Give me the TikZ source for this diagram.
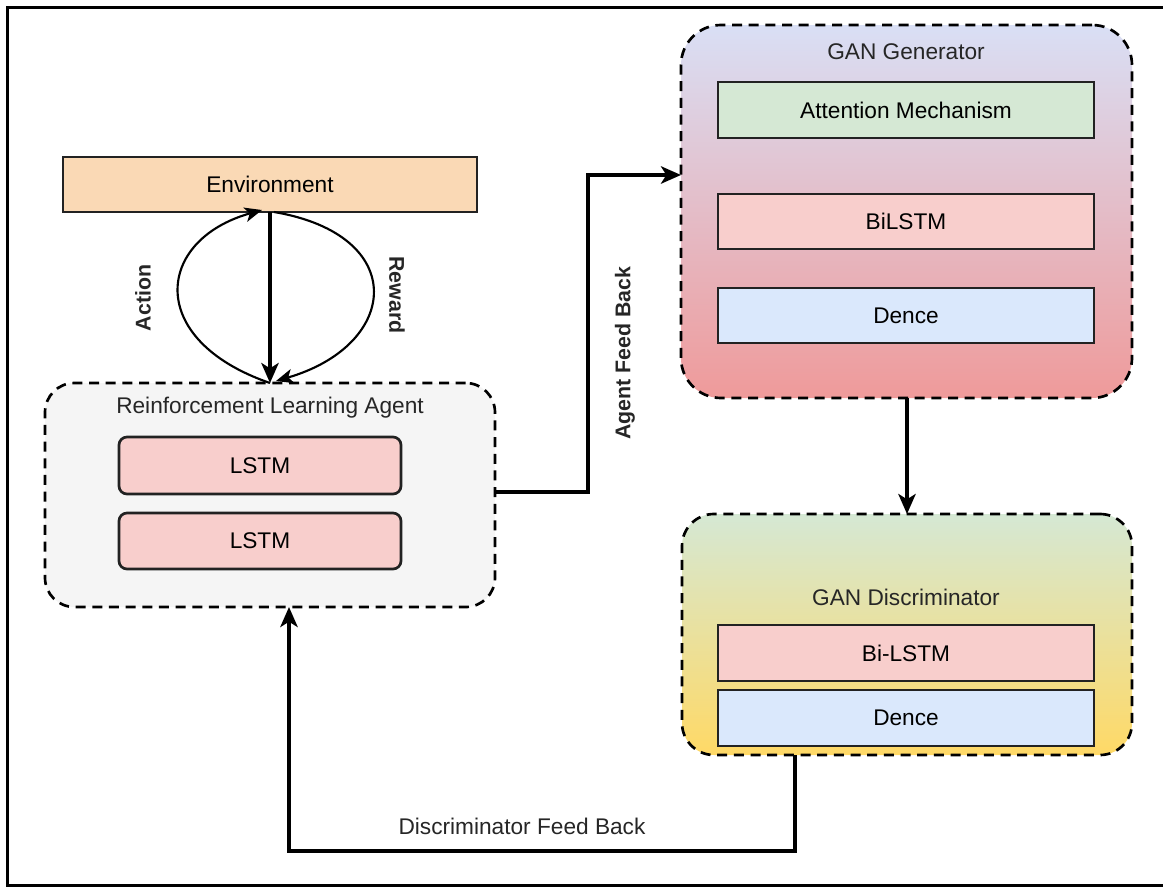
\documentclass[tikz,border=0pt]{standalone}
\usepackage{fontspec}
\setmainfont{Liberation Sans}
\usetikzlibrary{arrows.meta,calc}
\definecolor{envfill}{HTML}{FAD9B5}
\definecolor{agentfill}{HTML}{F5F5F5}
\definecolor{redfill}{HTML}{F8CECC}
\definecolor{greenfill}{HTML}{D5E8D4}
\definecolor{bluefill}{HTML}{DAE8FC}
\definecolor{gentop}{HTML}{D9DFF5}
\definecolor{genbot}{HTML}{EF9A9A}
\definecolor{disctop}{HTML}{D5E8D4}
\definecolor{discbot}{HTML}{FFD966}
\definecolor{edge}{HTML}{222222}
\def\pxu{*0.75pt}
\tikzset{
  box/.style={draw=edge, line width=2pt, inner sep=0pt, outer sep=0pt, font=\fontsize{17}{20}\selectfont},
  groupbox/.style={draw=black, line width=2pt, dash pattern=on 7.5pt off 5pt, inner sep=0pt, outer sep=0pt},
  conn/.style={line width=3pt, -{Stealth[length=15pt,width=13pt,inset=4pt]}},
  curve/.style={line width=1.6pt, -{Stealth[length=13pt,width=11pt,inset=3.5pt]}},
  lbl/.style={font=\fontsize{17}{20}\selectfont, text=black!85},
  blbl/.style={font=\bfseries\fontsize{16}{19}\selectfont, text=black!85}
}
\begin{document}
\begin{tikzpicture}[x=0.75pt,y=-0.75pt]
\useasboundingbox (0,0) rectangle (1163,889);
\draw[line width=2.2pt] (1170,7.5) -- (7.5,7.5) -- (7.5,885.5) -- (1170,885.5);

% Environment
\node[box, fill=envfill, minimum width=414\pxu, minimum height=55\pxu] (env) at (270,184.5) {Environment};

% RL Agent
\node[groupbox, fill=agentfill, rounded corners=22pt, minimum width=450\pxu, minimum height=224\pxu] (agent) at (270,495) {};
\node[lbl] (agenttitle) at (270,408) {Reinforcement Learning Agent};
\node[box, fill=redfill, rounded corners=6pt, minimum width=282\pxu, minimum height=57\pxu] (lstma) at (260,465.5) {LSTM};
\node[box, fill=redfill, rounded corners=6pt, minimum width=282\pxu, minimum height=56\pxu] (lstmb) at (260,541) {LSTM};

% GAN Generator
\node[groupbox, top color=gentop, bottom color=genbot, rounded corners=30pt, minimum width=451\pxu, minimum height=373\pxu] (gen) at (906.5,211.5) {};
\node[lbl] (gentitle) at (906,52) {GAN Generator};
\node[box, fill=greenfill, minimum width=376\pxu, minimum height=56\pxu] (att) at (906,110) {Attention Mechanism};
\node[box, fill=redfill, minimum width=376\pxu, minimum height=55\pxu] (bilstm) at (906,221.5) {BiLSTM};
\node[box, fill=bluefill, minimum width=376\pxu, minimum height=55\pxu] (densea) at (906,315.5) {Dence};

% GAN Discriminator
\node[groupbox, top color=disctop, bottom color=discbot, rounded corners=24pt, minimum width=450\pxu, minimum height=241\pxu] (disc) at (907,634.5) {};
\node[lbl] (disctitle) at (906,597) {GAN Discriminator};
\node[box, fill=redfill, minimum width=376\pxu, minimum height=56\pxu] (bilstmb) at (906,653) {Bi-LSTM};
\node[box, fill=bluefill, minimum width=376\pxu, minimum height=56\pxu] (denseb) at (906,718) {Dence};

% Environment <-> Agent
\draw[conn] (env.south) -- (agent.north);
\draw[curve] (agent.north) .. controls (145,340) and (155,240) .. ($(env.south)+(-8,-2)$);
\draw[curve] ($(env.south)+(4,0)$) .. controls (410,235) and (400,345) .. ($(agent.north)+(6,-2)$);
\node[blbl, rotate=90] (actlbl) at (143,298) {Action};
\node[blbl, rotate=-90] (rewlbl) at (397,295) {Reward};

% Agent feed back
\coordinate (afb) at (588,492);
\draw[conn] (agent.east |- afb) -- (afb) |- (gen.west |- 0,175);
\node[blbl, rotate=90] (afblbl) at (625,353) {Agent Feed Back};

% Generator -> Discriminator
\draw[conn] (gen.south -| 907,0) -- (disc.north);

% Discriminator feed back
\coordinate (dfb) at (795,851);
\draw[conn] (disc.south -| dfb) -- (dfb) -| (agent.south -| 289,0);
\node[lbl] (dfblbl) at (522,826) {Discriminator Feed Back};
\end{tikzpicture}
\end{document}
